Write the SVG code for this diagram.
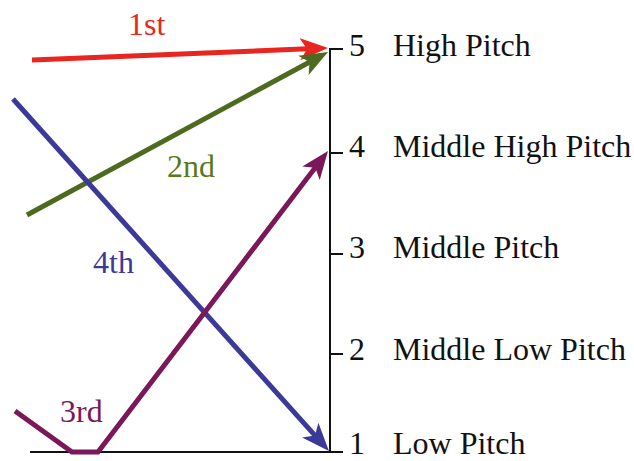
<svg xmlns="http://www.w3.org/2000/svg" width="634" height="461" viewBox="0 0 634 461">
<style>
text{font-family:"Liberation Serif","Times New Roman",serif;font-size:32px;fill:#111}
.ax{stroke:#111;stroke-width:2;fill:none}
.ln{stroke-width:5;fill:none;stroke-linejoin:miter}
</style>
<defs>
<marker id="mr" markerUnits="userSpaceOnUse" markerWidth="28" markerHeight="22" viewBox="0 0 28 22" refX="14" refY="11" orient="auto"><path d="M0,0 L28,11 L0,22 L7,11 z" fill="#e8251f"/></marker>
<marker id="mg" markerUnits="userSpaceOnUse" markerWidth="28" markerHeight="22" viewBox="0 0 28 22" refX="14" refY="11" orient="auto"><path d="M0,0 L28,11 L0,22 L7,11 z" fill="#4d6b1f"/></marker>
<marker id="mb" markerUnits="userSpaceOnUse" markerWidth="28" markerHeight="22" viewBox="0 0 28 22" refX="14" refY="11" orient="auto"><path d="M0,0 L28,11 L0,22 L7,11 z" fill="#3c3a98"/></marker>
<marker id="mp" markerUnits="userSpaceOnUse" markerWidth="28" markerHeight="22" viewBox="0 0 28 22" refX="14" refY="11" orient="auto"><path d="M0,0 L28,11 L0,22 L7,11 z" fill="#7b1859"/></marker>
</defs>
<g id="axis">
<path class="ax" d="M330,48 V452 M30,452 H343 M330,49 H343 M330,153 H343 M330,254 H343 M330,354 H343"/>
<text x="349" y="56">5</text>
<text x="349" y="157">4</text>
<text x="349" y="258">3</text>
<text x="349" y="360">2</text>
<text x="349" y="454">1</text>
</g>
<g id="label-5"><text x="393" y="56">High Pitch</text></g>
<g id="label-4"><text x="393" y="157">Middle High Pitch</text></g>
<g id="label-3"><text x="393" y="258">Middle Pitch</text></g>
<g id="label-2"><text x="393" y="360">Middle Low Pitch</text></g>
<g id="label-1"><text x="393" y="454">Low Pitch</text></g>
<g id="connectors">
<path class="ln" stroke="#e8251f" d="M32,60 L314,48.6" marker-end="url(#mr)"/>
<path class="ln" stroke="#4d6b1f" d="M27,215 L315.7,58.7" marker-end="url(#mg)"/>
<path class="ln" stroke="#3c3a98" d="M13,99 L319.6,440.6" marker-end="url(#mb)"/>
<path class="ln" stroke="#7b1859" d="M15,411 L72,452 L98,452 L319.5,162.1" marker-end="url(#mp)"/>
</g>
<g id="step-labels">
<text x="128" y="35" style="fill:#e8251f">1st</text>
<text x="167" y="177" style="fill:#5a7a1a">2nd</text>
<text x="93" y="273" style="fill:#3c3a98">4th</text>
<text x="60" y="422" style="fill:#7b1859">3rd</text>
</g>
</svg>
